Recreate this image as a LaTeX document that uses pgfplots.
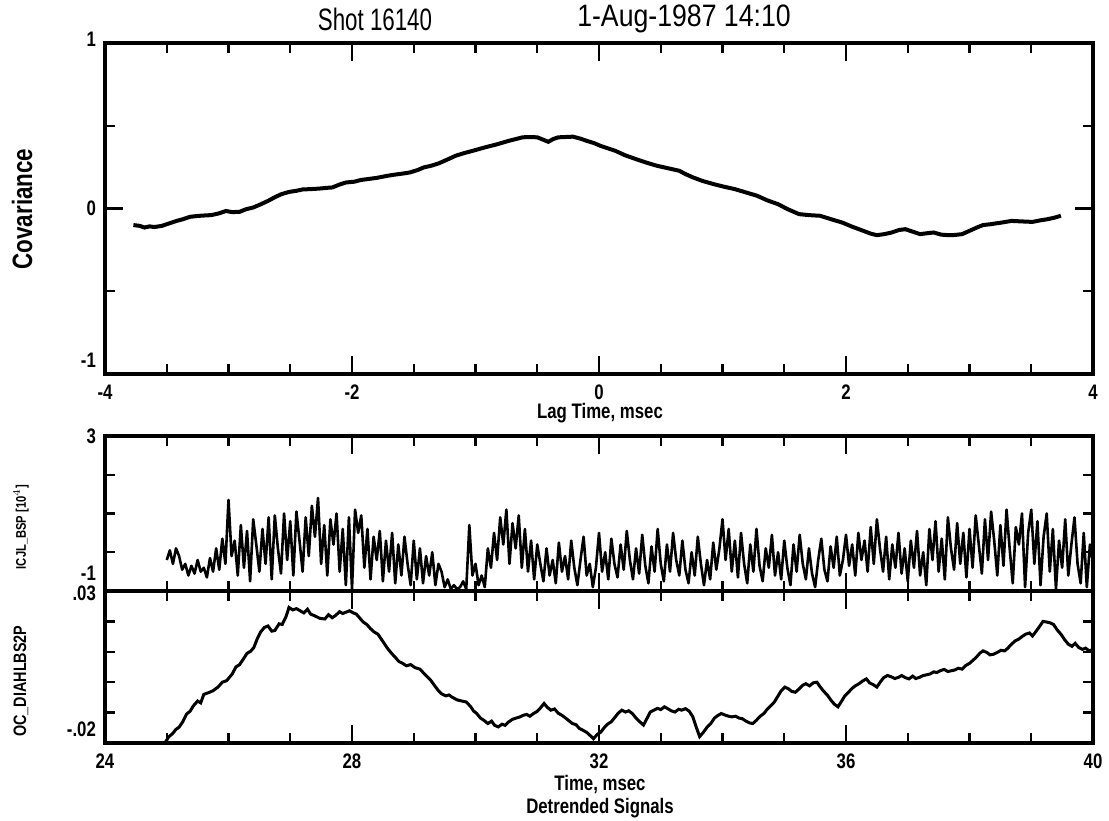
\documentclass[border=0pt]{standalone}
\usepackage{fontspec}
\setmainfont{Liberation Sans}
\newfontfamily\lf[FakeStretch=0.8]{Liberation Sans}
\newfontfamily\tf[FakeStretch=0.72]{Liberation Sans}
\newfontfamily\tfb[FakeStretch=0.86]{Liberation Sans}
\usepackage{pgfplots}
\pgfplotsset{compat=1.18}
\pgfplotsset{
  base/.style={
    scale only axis, anchor=south west,
    width=494pt,
    axis line style={line width=1.6pt},
    every tick/.style={line width=1.2pt, black},
    major tick length=9pt, minor tick length=5pt,
    tick align=inside,
    ticklabel style={font=\fontsize{10.5}{12}\lf\bfseries},
    xticklabel style={yshift=-2pt},
    yticklabel style={xshift=-1pt},
    scaled ticks=false,
  }
}
\begin{document}
\begin{tikzpicture}
\path[use as bounding box] (0,0) rectangle (554.5pt,410pt);
% top axis
\begin{axis}[base, at={(52.5pt,223pt)}, height=165.5pt,
  xmin=-4, xmax=4, ymin=-1, ymax=1,
  xtick={-4,-2,0,2,4}, xticklabels={-4,-2,0,2,4}, minor x tick num=3,
  ytick={-1,0,1}, yticklabels={\smash{\raisebox{3pt}{-1}},0,\smash{\raisebox{-2pt}{1}}}, minor y tick num=1]
\addplot[line width=2pt, black] coordinates {
(-3.77,-0.10) (-3.72,-0.105) (-3.68,-0.115) (-3.64,-0.108) (-3.60,-0.112) (-3.54,-0.105) (-3.48,-0.09) (-3.42,-0.075) (-3.37,-0.065) (-3.31,-0.05) (-3.25,-0.045) (-3.19,-0.042) (-3.14,-0.04) (-3.08,-0.03) (-3.02,-0.015) (-2.97,-0.022) (-2.91,-0.02) (-2.86,-0.005) (-2.80,0.006) (-2.74,0.025) (-2.68,0.046) (-2.62,0.07) (-2.57,0.087) (-2.51,0.1) (-2.45,0.107) (-2.40,0.115) (-2.34,0.117) (-2.27,0.12) (-2.20,0.125) (-2.16,0.127) (-2.10,0.145) (-2.05,0.157) (-1.98,0.162) (-1.93,0.172) (-1.88,0.177) (-1.80,0.185) (-1.71,0.198) (-1.65,0.205) (-1.58,0.212) (-1.53,0.218) (-1.47,0.232) (-1.42,0.248) (-1.36,0.258) (-1.30,0.272) (-1.23,0.295) (-1.16,0.319) (-1.09,0.335) (-1.02,0.349) (-0.93,0.368) (-0.84,0.385) (-0.78,0.398) (-0.73,0.409) (-0.67,0.42) (-0.62,0.43) (-0.56,0.432) (-0.50,0.43) (-0.45,0.415) (-0.41,0.403) (-0.37,0.42) (-0.33,0.43) (-0.27,0.432) (-0.21,0.434) (-0.15,0.422) (-0.10,0.409) (-0.04,0.395) (0.01,0.379) (0.07,0.364) (0.13,0.349) (0.21,0.322) (0.30,0.298) (0.38,0.278) (0.47,0.258) (0.56,0.243) (0.65,0.228) (0.70,0.208) (0.76,0.188) (0.84,0.166) (0.93,0.147) (1.01,0.132) (1.10,0.117) (1.19,0.097) (1.28,0.077) (1.36,0.05) (1.45,0.026) (1.53,-0.005) (1.62,-0.034) (1.70,-0.04) (1.79,-0.044) (1.88,-0.065) (1.97,-0.085) (2.05,-0.11) (2.14,-0.135) (2.20,-0.152) (2.25,-0.161) (2.31,-0.155) (2.37,-0.145) (2.43,-0.13) (2.48,-0.125) (2.54,-0.14) (2.60,-0.155) (2.65,-0.15) (2.71,-0.145) (2.77,-0.158) (2.83,-0.161) (2.88,-0.16) (2.94,-0.155) (3.00,-0.135) (3.06,-0.115) (3.11,-0.1) (3.17,-0.095) (3.26,-0.085) (3.34,-0.075) (3.42,-0.078) (3.51,-0.081) (3.57,-0.072) (3.63,-0.065) (3.69,-0.055) (3.74,-0.044)
};
\end{axis}
% middle axis
\begin{axis}[base, at={(52.5pt,114.5pt)}, height=77.5pt,
  xmin=24, xmax=40, ymin=-1, ymax=3,
  xtick={24,28,32,36,40}, xticklabels={,,,,,}, minor x tick num=3,
  ytick={-1,3}, yticklabels={\smash{\raisebox{5pt}{-1}},3}, minor y tick num=3]
\addplot[line width=1.3pt, line join=round, black] table[row sep=\\] {
x y\\
25.00 -0.2\\ 25.05 0.05\\ 25.10 -0.3\\ 25.15 0.1\\ 25.20 -0.1\\ 25.25 -0.45\\ 25.30 -0.3\\ 25.35 -0.6\\ 25.40 -0.35\\ 25.45 -0.55\\
25.50 -0.2\\ 25.55 -0.5\\ 25.60 -0.4\\ 25.65 -0.65\\ 25.70 -0.15\\ 25.75 -0.5\\ 25.80 0.1\\ 25.85 -0.45\\ 25.90 0.35\\ 25.95 -0.3\\
26.00 1.35\\ 26.05 -0.1\\ 26.10 0.3\\ 26.15 -0.6\\ 26.20 0.7\\ 26.25 -0.4\\ 26.30 0.55\\ 26.35 -0.75\\ 26.40 0.85\\ 26.45 0.2\\
26.50 -0.5\\ 26.55 0.6\\ 26.60 -0.3\\ 26.65 0.9\\ 26.70 -0.7\\ 26.75 0.95\\ 26.80 0.1\\ 26.85 -0.55\\ 26.90 1.0\\ 26.95 -0.2\\
27.00 0.8\\ 27.05 -0.6\\ 27.10 1.05\\ 27.15 0.3\\ 27.20 -0.5\\ 27.25 0.9\\ 27.30 -0.1\\ 27.35 1.2\\ 27.40 0.4\\ 27.45 1.4\\
27.50 -0.3\\ 27.55 0.7\\ 27.60 -0.6\\ 27.65 0.85\\ 27.70 0.2\\ 27.75 1.0\\ 27.80 -0.5\\ 27.85 0.6\\ 27.90 -0.85\\ 27.95 0.9\\
28.00 -0.95\\ 28.05 1.1\\ 28.10 0.5\\ 28.15 0.95\\ 28.20 -0.4\\ 28.25 0.6\\ 28.30 -0.7\\ 28.35 0.4\\ 28.40 -0.2\\ 28.45 0.55\\
28.50 -0.75\\ 28.55 0.3\\ 28.60 -0.5\\ 28.65 0.5\\ 28.70 -0.8\\ 28.75 0.2\\ 28.80 -0.6\\ 28.85 0.4\\ 28.90 -0.3\\ 28.95 -0.85\\
29.00 0.3\\ 29.05 -0.7\\ 29.10 0.1\\ 29.15 -0.8\\ 29.20 -0.1\\ 29.25 -0.6\\ 29.30 0.0\\ 29.35 -0.85\\ 29.40 -0.3\\ 29.45 -0.5\\
29.50 -0.9\\ 29.55 -0.7\\ 29.60 -0.95\\ 29.65 -0.85\\ 29.70 -0.95\\ 29.75 -0.9\\ 29.80 -0.75\\ 29.85 -0.95\\ 29.90 0.7\\ 29.95 -0.6\\
30.00 -0.3\\ 30.05 -0.85\\ 30.10 -0.6\\ 30.15 -0.9\\ 30.20 0.1\\ 30.25 -0.4\\ 30.30 0.5\\ 30.35 -0.2\\ 30.40 0.9\\ 30.45 0.2\\
30.50 1.1\\ 30.55 -0.3\\ 30.60 0.75\\ 30.65 0.1\\ 30.70 0.95\\ 30.75 -0.4\\ 30.80 0.6\\ 30.85 -0.5\\ 30.90 0.3\\ 30.95 -0.7\\
31.00 0.2\\ 31.05 -0.3\\ 31.10 -0.75\\ 31.15 0.1\\ 31.20 -0.6\\ 31.25 -0.2\\ 31.30 -0.8\\ 31.35 0.25\\ 31.40 -0.5\\ 31.45 -0.1\\
31.50 -0.7\\ 31.55 0.3\\ 31.60 -0.4\\ 31.65 -0.85\\ 31.70 -0.2\\ 31.75 0.4\\ 31.80 -0.6\\ 31.85 -0.3\\ 31.90 -0.9\\ 31.95 -0.4\\
32.00 0.5\\ 32.05 -0.5\\ 32.10 0.0\\ 32.15 -0.7\\ 32.20 0.35\\ 32.25 -0.3\\ 32.30 -0.65\\ 32.35 0.2\\ 32.40 -0.45\\ 32.45 0.55\\
32.50 -0.2\\ 32.55 -0.7\\ 32.60 0.1\\ 32.65 -0.55\\ 32.70 0.45\\ 32.75 -0.35\\ 32.80 -0.8\\ 32.85 0.15\\ 32.90 -0.5\\ 32.95 0.6\\
33.00 -0.3\\ 33.05 -0.75\\ 33.10 0.2\\ 33.15 -0.5\\ 33.20 0.5\\ 33.25 -0.2\\ 33.30 -0.6\\ 33.35 0.3\\ 33.40 -0.45\\ 33.45 -0.8\\
33.50 0.0\\ 33.55 -0.6\\ 33.60 0.4\\ 33.65 -0.3\\ 33.70 -0.85\\ 33.75 -0.2\\ 33.80 -0.7\\ 33.85 0.25\\ 33.90 -0.45\\ 33.95 0.1\\
34.00 0.85\\ 34.05 -0.2\\ 34.10 0.6\\ 34.15 -0.5\\ 34.20 0.3\\ 34.25 -0.65\\ 34.30 0.5\\ 34.35 -0.3\\ 34.40 -0.8\\ 34.45 0.2\\
34.50 -0.5\\ 34.55 0.6\\ 34.60 -0.35\\ 34.65 -0.75\\ 34.70 0.1\\ 34.75 -0.4\\ 34.80 0.45\\ 34.85 -0.6\\ 34.90 0.0\\ 34.95 -0.7\\
35.00 0.3\\ 35.05 -0.4\\ 35.10 -0.85\\ 35.15 0.2\\ 35.20 -0.5\\ 35.25 0.45\\ 35.30 -0.3\\ 35.35 -0.7\\ 35.40 0.1\\ 35.45 -0.55\\
35.50 -0.9\\ 35.55 -0.2\\ 35.60 0.35\\ 35.65 -0.45\\ 35.70 -0.75\\ 35.75 0.15\\ 35.80 -0.4\\ 35.85 0.4\\ 35.90 -0.6\\ 35.95 -0.2\\
36.00 0.45\\ 36.05 -0.35\\ 36.10 0.2\\ 36.15 -0.6\\ 36.20 0.5\\ 36.25 -0.2\\ 36.30 0.3\\ 36.35 -0.5\\ 36.40 0.65\\ 36.45 -0.3\\
36.50 0.85\\ 36.55 0.1\\ 36.60 -0.5\\ 36.65 0.4\\ 36.70 -0.7\\ 36.75 0.2\\ 36.80 -0.4\\ 36.85 0.5\\ 36.90 -0.55\\ 36.95 0.1\\
37.00 -0.75\\ 37.05 0.3\\ 37.10 -0.4\\ 37.15 0.55\\ 37.20 -0.6\\ 37.25 0.0\\ 37.30 -0.85\\ 37.35 0.6\\ 37.40 -0.2\\ 37.45 0.8\\
37.50 -0.5\\ 37.55 0.35\\ 37.60 -0.7\\ 37.65 0.9\\ 37.70 0.1\\ 37.75 -0.45\\ 37.80 0.75\\ 37.85 -0.3\\ 37.90 0.5\\ 37.95 -0.65\\
38.00 0.6\\ 38.05 -0.4\\ 38.10 0.95\\ 38.15 0.2\\ 38.20 -0.55\\ 38.25 0.85\\ 38.30 -0.2\\ 38.35 1.05\\ 38.40 0.3\\ 38.45 -0.6\\
38.50 0.7\\ 38.55 -0.35\\ 38.60 1.1\\ 38.65 0.1\\ 38.70 -0.8\\ 38.75 0.65\\ 38.80 0.2\\ 38.85 1.0\\ 38.90 -0.9\\ 38.95 0.5\\
39.00 1.1\\ 39.05 -0.3\\ 39.10 0.8\\ 39.15 -0.85\\ 39.20 0.4\\ 39.25 1.0\\ 39.30 -0.5\\ 39.35 0.6\\ 39.40 -0.95\\ 39.45 0.3\\
39.50 -0.4\\ 39.55 0.85\\ 39.60 -0.6\\ 39.65 0.2\\ 39.70 0.9\\ 39.75 -0.3\\ 39.80 -0.8\\ 39.85 0.5\\ 39.90 -0.9\\ 39.95 0.2\\
40.00 -0.25\\
};
\end{axis}
% bottom axis
\begin{axis}[base, at={(52.5pt,38.5pt)}, height=76pt,
  xmin=24, xmax=40, ymin=-0.02, ymax=0.03,
  xtick={24,28,32,36,40}, xticklabels={24,28,32,36,40}, minor x tick num=3,
  ytick={-0.02,0.03}, yticklabels={\smash{\raisebox{3.5pt}{-.02}},\smash{\raisebox{-4.5pt}{.03}}}, minor y tick num=4]
\addplot[line width=1.5pt, black] coordinates {
(24.98,-0.0197) (25.03,-0.018) (25.09,-0.017) (25.15,-0.0155) (25.20,-0.0148) (25.26,-0.013) (25.32,-0.0105) (25.38,-0.0095) (25.43,-0.0078) (25.5,-0.0062) (25.55,-0.0068) (25.6,-0.004) (25.67,-0.0035) (25.75,-0.0028) (25.83,-0.0016) (25.9,0.0) (25.97,0.0005) (26.06,0.0027) (26.12,0.005) (26.18,0.0058) (26.24,0.0076) (26.3,0.0095) (26.36,0.0102) (26.41,0.0114) (26.47,0.0145) (26.52,0.0165) (26.58,0.018) (26.64,0.0185) (26.7,0.0168) (26.75,0.017) (26.82,0.0192) (26.87,0.019) (26.93,0.0215) (26.98,0.0246) (27.04,0.0238) (27.1,0.0242) (27.16,0.0235) (27.22,0.0228) (27.28,0.024) (27.33,0.0224) (27.4,0.0218) (27.48,0.021) (27.56,0.0208) (27.62,0.0222) (27.68,0.0212) (27.73,0.0219) (27.8,0.0232) (27.85,0.0226) (27.9,0.023) (27.96,0.0235) (28.02,0.0228) (28.07,0.0224) (28.13,0.021) (28.18,0.0198) (28.24,0.019) (28.3,0.0176) (28.36,0.0165) (28.42,0.0158) (28.48,0.014) (28.53,0.0125) (28.58,0.011) (28.64,0.0095) (28.7,0.0082) (28.76,0.0068) (28.82,0.0062) (28.88,0.0054) (28.95,0.0058) (29.02,0.0048) (29.1,0.0043) (29.16,0.003) (29.22,0.0018) (29.28,0.0005) (29.34,-0.0012) (29.4,-0.0028) (29.45,-0.0038) (29.52,-0.0045) (29.57,-0.0042) (29.62,-0.0049) (29.7,-0.0058) (29.78,-0.0062) (29.85,-0.0065) (29.92,-0.008) (29.97,-0.0095) (30.02,-0.0103) (30.08,-0.0118) (30.14,-0.0126) (30.2,-0.0136) (30.26,-0.0128) (30.31,-0.0142) (30.37,-0.0147) (30.43,-0.0138) (30.48,-0.0142) (30.54,-0.013) (30.6,-0.0122) (30.66,-0.0118) (30.72,-0.0114) (30.77,-0.0109) (30.83,-0.0106) (30.88,-0.0112) (30.94,-0.0103) (31.0,-0.0096) (31.05,-0.0085) (31.11,-0.007) (31.16,-0.0082) (31.22,-0.0092) (31.28,-0.0088) (31.34,-0.0102) (31.4,-0.0109) (31.46,-0.0118) (31.52,-0.0128) (31.57,-0.0136) (31.63,-0.014) (31.68,-0.0152) (31.74,-0.0158) (31.8,-0.0165) (31.86,-0.0176) (31.91,-0.0186) (31.97,-0.0172) (32.03,-0.0164) (32.09,-0.0148) (32.14,-0.0138) (32.2,-0.013) (32.26,-0.0115) (32.31,-0.0102) (32.37,-0.0092) (32.43,-0.0098) (32.48,-0.0094) (32.54,-0.0103) (32.6,-0.0118) (32.66,-0.013) (32.72,-0.0141) (32.78,-0.0118) (32.83,-0.0098) (32.89,-0.0092) (32.95,-0.0086) (33.0,-0.009) (33.06,-0.0081) (33.12,-0.0088) (33.17,-0.0094) (33.23,-0.0098) (33.29,-0.0089) (33.34,-0.0092) (33.4,-0.0087) (33.46,-0.0095) (33.52,-0.0114) (33.57,-0.0145) (33.63,-0.0179) (33.69,-0.0165) (33.75,-0.0148) (33.81,-0.0136) (33.87,-0.0118) (33.92,-0.011) (33.98,-0.0103) (34.04,-0.0108) (34.1,-0.0112) (34.15,-0.0114) (34.21,-0.0112) (34.27,-0.0118) (34.32,-0.012) (34.38,-0.0128) (34.44,-0.0134) (34.49,-0.0136) (34.55,-0.0125) (34.61,-0.0112) (34.67,-0.0103) (34.72,-0.009) (34.78,-0.0078) (34.84,-0.0065) (34.9,-0.0045) (34.95,-0.0028) (35.01,-0.0016) (35.07,-0.0022) (35.12,-0.003) (35.18,-0.0033) (35.24,-0.0022) (35.3,-0.001) (35.35,-0.0005) (35.41,-0.0012) (35.47,-0.0002) (35.53,0.0) (35.58,-0.0015) (35.64,-0.003) (35.7,-0.0043) (35.76,-0.006) (35.81,-0.0072) (35.87,-0.0081) (35.93,-0.0062) (35.98,-0.0045) (36.04,-0.0033) (36.1,-0.002) (36.15,-0.0012) (36.21,-0.0005) (36.27,0.0004) (36.33,0.0011) (36.38,-0.0002) (36.44,-0.0008) (36.5,-0.0016) (36.56,0.0002) (36.61,0.0015) (36.67,0.0022) (36.73,0.0018) (36.79,0.0012) (36.85,0.0016) (36.9,0.0022) (36.96,0.0015) (37.02,0.0011) (37.08,0.002) (37.13,0.0012) (37.19,0.0016) (37.25,0.0022) (37.3,0.0024) (37.36,0.0027) (37.42,0.0034) (37.47,0.0032) (37.53,0.0038) (37.59,0.0042) (37.65,0.0035) (37.71,0.0038) (37.76,0.004) (37.82,0.0046) (37.88,0.0043) (37.94,0.0055) (38.0,0.0062) (38.05,0.0071) (38.11,0.0082) (38.17,0.0096) (38.22,0.0103) (38.28,0.0098) (38.33,0.009) (38.39,0.0092) (38.45,0.0098) (38.51,0.0105) (38.57,0.0103) (38.62,0.0112) (38.68,0.0125) (38.74,0.0136) (38.8,0.0142) (38.85,0.015) (38.91,0.0158) (38.97,0.0162) (39.02,0.0152) (39.08,0.0168) (39.14,0.0185) (39.19,0.02) (39.25,0.0198) (39.31,0.0195) (39.36,0.019) (39.42,0.0172) (39.48,0.0158) (39.54,0.014) (39.6,0.0125) (39.66,0.0118) (39.71,0.0128) (39.77,0.0114) (39.83,0.0108) (39.88,0.0112) (39.94,0.0103) (40.0,0.0108)
};
\end{axis}
% titles and labels
\node[font=\fontsize{15.5}{18}\tf] at (187.5pt,400.5pt) {Shot 16140};
\node[font=\fontsize{15.5}{18}\tfb] at (342pt,400.5pt) {1-Aug-1987 14:10};
\node[font=\fontsize{10.5}{12}\lf\bfseries] at (300pt,203.5pt) {Lag Time, msec};
\node[font=\fontsize{10.5}{12}\lf\bfseries] at (300pt,17.5pt) {Time, msec};
\node[font=\fontsize{10.5}{12}\lf\bfseries] at (300pt,6pt) {Detrended Signals};
\node[font=\fontsize{14}{16}\lf\bfseries, rotate=90] at (11pt,305.5pt) {Covariance};
\node[font=\fontsize{9}{11}\lf\bfseries, rotate=90] at (10.5pt,69.5pt) {OC\_DIAHLBS2P};
\node[font=\fontsize{7}{9}\lf\bfseries, rotate=90] at (10.5pt,146.5pt) {ICJL\_BSP [10$^4$]};
\end{tikzpicture}
\end{document}
